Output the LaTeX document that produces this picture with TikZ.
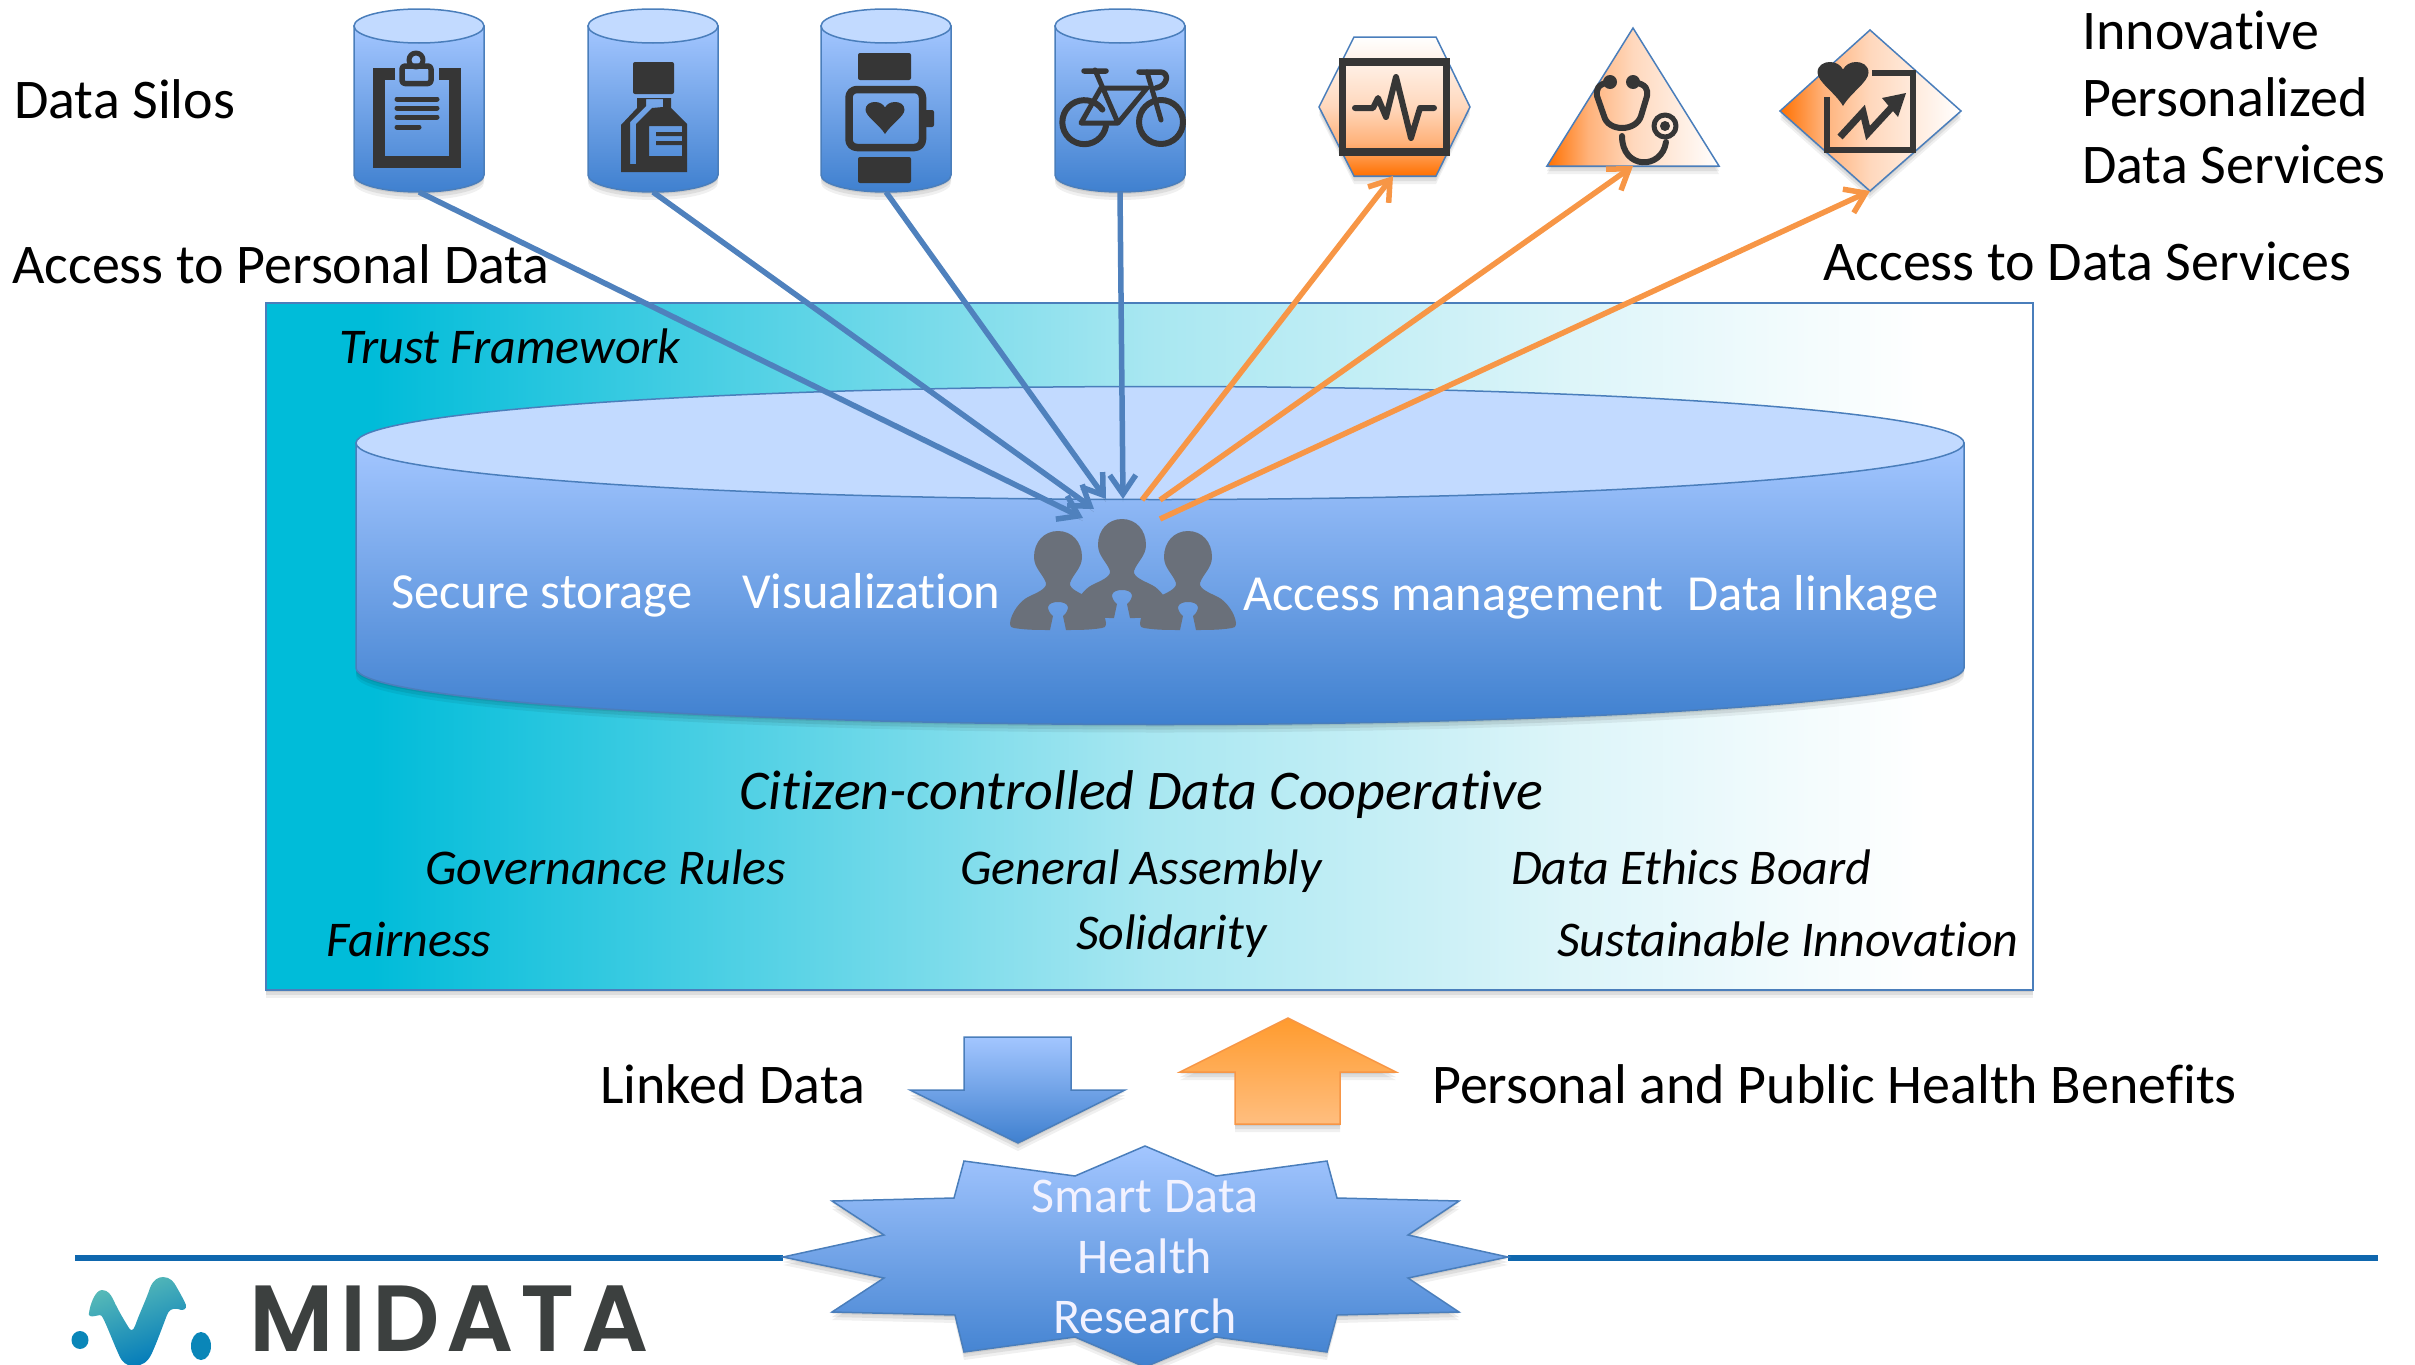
\documentclass[tikz,border=0pt]{standalone}
\usepackage{fontspec}
\setmainfont{Carlito}[Ligatures=NoCommon]
\newfontfamily\logofont{Poppins}[UprightFont=* SemiBold,LetterSpace=7]
\usetikzlibrary{arrows.meta}
\definecolor{edgeblue}{HTML}{4A7EBB}
\definecolor{drumtop}{HTML}{C2DAFF}
\definecolor{drumhi}{HTML}{A3C6FF}
\definecolor{drumlo}{HTML}{3F80CF}
\definecolor{arrblue}{HTML}{4F81BD}
\definecolor{arrorange}{HTML}{F79646}
\definecolor{svcorange}{HTML}{FF7000}
\definecolor{svcmid}{HTML}{FFB27A}
\definecolor{svcpale}{HTML}{FFD8BD}
\definecolor{uporangehi}{HTML}{FF9B2E}
\definecolor{uporangelo}{HTML}{FFBE7F}
\definecolor{icondark}{HTML}{363636}
\definecolor{peoplegrey}{HTML}{6A707A}
\definecolor{ruleblue}{HTML}{0F67AE}
\definecolor{logodark}{HTML}{3C403F}
\definecolor{logoblue}{HTML}{0079BA}
\definecolor{logoteal}{HTML}{5BBDB8}
\definecolor{logodot}{HTML}{0A86B8}
\definecolor{panelcyan}{HTML}{00BCD9}
\definecolor{panelmid}{HTML}{A8E7F1}
\definecolor{panelpale}{HTML}{DDF5F9}
\pgfdeclarehorizontalshading{panelshade}{100bp}{color(0bp)=(panelcyan); color(28bp)=(panelcyan); color(50bp)=(panelmid); color(62bp)=(panelpale); color(72bp)=(white); color(100bp)=(white)}
\pgfdeclarehorizontalshading{svcshade}{100bp}{color(0bp)=(svcorange); color(25bp)=(svcorange); color(37bp)=(svcmid); color(50bp)=(svcpale); color(75bp)=(white); color(100bp)=(white)}
\tikzset{softshadow/.style={preaction={draw=none,fill=black,fill opacity=.08,transform canvas={yshift=-2pt}},preaction={draw=none,fill=black,fill opacity=.08,transform canvas={yshift=-5pt}},preaction={draw=none,fill=black,fill opacity=.06,transform canvas={yshift=-8pt}}}}
\tikzset{drumbody/.style={draw=edgeblue, line width=1.5pt, top color=drumhi, bottom color=drumlo, softshadow}}
\tikzset{drumlid/.style={draw=edgeblue, line width=1.5pt, fill=drumtop}}
\tikzset{svc/.style={draw=edgeblue, line width=1.5pt, softshadow, shading=svcshade}}
\tikzset{icon/.style={draw=icondark, line join=round, line cap=round}}
\tikzset{iconfill/.style={fill=icondark, draw=none}}
\tikzset{arrinto/.style={draw=arrblue, line width=5.5pt, -{Straight Barb[length=19pt,width=26pt]}, preaction={draw=black,draw opacity=.12,-,transform canvas={yshift=-3pt}}}}
\tikzset{arrout/.style={draw=arrorange, line width=5.5pt, -{Straight Barb[length=19pt,width=26pt]}}}
\tikzset{lbl/.style={anchor=base west, inner sep=0pt, text=black, font=\fontsize{56}{60}\selectfont}}
\tikzset{rule/.style={lbl, font=\fontsize{50}{60}\itshape\selectfont}}
\tikzset{feature/.style={lbl, text=white, font=\fontsize{50.5}{60}\selectfont}}
\tikzset{starlbl/.style={anchor=base, inner sep=0pt, text=white!95!blue, font=\fontsize{50}{60}\selectfont}}
% name, left, width, lid y, base y, radius y
\newcommand\drum[6]{
		\path[drumbody] (#2,#4) -- (#2,#5) arc[start angle=180,end angle=0,x radius=#3/2,y radius=#6] -- (#2+#3,#4) -- cycle;
		\path[drumlid] (#2+#3/2,#4) ellipse[x radius=#3/2,y radius=#6];
		\coordinate (#1) at (#2+#3/2,#5+#6);
	}
\newcommand\heartfill[4]{
		\fill[iconfill,shift={(#1,#2)},xscale=#3,yscale=#4] (0,1) .. controls (-.15,.7) and (-.5,.45) .. (-.5,.24) .. controls (-.5,.07) and (-.37,0) .. (-.26,0) .. controls (-.13,0) and (-.05,.07) .. (0,.17) .. controls (.05,.07) and (.13,0) .. (.26,0) .. controls (.37,0) and (.5,.07) .. (.5,.24) .. controls (.5,.45) and (.15,.7) .. (0,1) -- cycle;
	}
\newcommand\person[2]{
		\fill[peoplegrey,shift={(#1,#2)}] (0,0) .. controls (14,0) and (24,11) .. (24,26) .. controls (24,37) and (15,43) .. (12,52) .. controls (11,58) and (22,62) .. (30,66) .. controls (38,70) and (47,82) .. (48,92) .. controls (48,96) and (46,97) .. (44,97) .. controls (32,99) and (20,99) .. (8,99) -- (5,85) .. controls (9,82) and (10,78) .. (10,76) .. controls (9,72) and (4,71) .. (0,71) .. controls (-4,71) and (-9,72) .. (-10,76) .. controls (-10,78) and (-9,82) .. (-5,85) -- (-8,99) .. controls (-20,99) and (-32,99) .. (-44,97) .. controls (-46,97) and (-48,96) .. (-48,92) .. controls (-47,82) and (-38,70) .. (-30,66) .. controls (-22,62) and (-11,58) .. (-12,52) .. controls (-15,43) and (-24,37) .. (-24,26) .. controls (-24,11) and (-14,0) .. (0,0) -- cycle;
	}

\begin{document}
\begin{tikzpicture}[x=1pt,y=-1pt]
		\useasboundingbox (0,0) rectangle (2415,1365);
		
		% silos
		\drum{silo1}{354}{130}{26}{175}{17}
		\drum{silo2}{588}{130}{26}{175}{17}
		\drum{silo3}{821}{130}{26}{175}{17}
		\drum{silo4}{1055}{130}{26}{175}{17}
		
		% clipboard
		\draw[icon,line width=12pt,line cap=butt,line join=miter] (395,74) -- (379,74) -- (379,162) -- (455,162) -- (455,74) -- (439,74);
		\draw[icon,line width=5.5pt,rounded corners=3pt] (402,83.5) -- (402,66) -- (431,66) -- (431,83.5) -- cycle;
		\draw[icon,line width=5pt] (416,60) circle[radius=7];
		\foreach \liney/\lineend in {99/437,108/437,117/437,127/419}
			\draw[icon,line width=5pt] (397,\liney) -- (\lineend,\liney);
		
		% bottle
		\fill[iconfill,rounded corners=2pt] (633,62) rectangle (674,94);
		\fill[iconfill,even odd rule] (637,98) -- (671,98) -- (671,108) -- (687,124) -- (687,172) -- (621,172) -- (621,125) -- (637,108) -- cycle (646,99) -- (663,99) -- (663,107) -- (652,108) -- (636,124) -- (636,164) -- (630,164) -- (630,122) -- (646,106) -- cycle (649,126) rectangle (682,156);
		\fill[iconfill] (656,132) rectangle (682,136) (656,141) rectangle (682,145);
		
		% watch
		\fill[iconfill,rounded corners=2pt] (858,53) rectangle (911,80) (858,157) rectangle (911,183) (924,110) rectangle (934,127);
		\draw[icon,line width=7.5pt,rounded corners=8pt] (849,89.5) rectangle (922.5,147.5);
		\heartfill{885}{102}{39}{32}
		
		% bike
		\draw[icon,line width=6pt] (1106,126) arc[start angle=10,end angle=325,radius=22];
		\draw[icon,line width=6pt] (1161,122) circle[radius=22];
		\draw[icon,line width=5pt] (1095,70) -- (1118,123) -- (1081,123) -- (1101,88) -- (1147,88) -- (1118,123) (1147,72) -- (1161,120);
		\draw[icon,line width=5.5pt] (1084,71) -- (1106,71) (1139,72) -- (1160,72) .. controls (1170,72) and (1168,86) .. (1156,88);
		
		% services
		\path[svc,shading angle=90] (1319,107) -- (1354,37) -- (1436,37) -- (1470,107) -- (1436,176) -- (1354,176) -- cycle;
		\coordinate (svc1) at (1393,176);
		\path[svc] (1633,28) -- (1719,166) -- (1547,166) -- cycle;
		\coordinate (svc2) at (1633,166);
		\path[svc] (1870,30) -- (1961,111) -- (1870,191) -- (1780,111) -- cycle;
		\coordinate (svc3) at (1870,191);
		
		% monitor
		\draw[icon,line width=7.5pt,line cap=butt,line join=miter] (1342.5,62) rectangle (1446.5,152);
		\draw[icon,line width=6pt] (1355,108) -- (1373,108) -- (1378,98) -- (1386,117) -- (1396,77) -- (1411,138) -- (1420,108) -- (1434,108);
		
		% stethoscope
		\draw[icon,line width=6pt] (1610,82) .. controls (1597,84) and (1596,90) .. (1597,96) -- (1604,116) .. controls (1608,132) and (1636,132) .. (1641,116) -- (1647,96) .. controls (1648,90) and (1647,84) .. (1633,82);
		\fill[iconfill] (1610,82) circle[radius=7] (1633,82) circle[radius=7];
		\draw[icon,line width=5pt] (1665,126) circle[radius=11];
		\fill[iconfill] (1665,126) circle[radius=5];
		\draw[icon,line width=6pt] (1622,136) .. controls (1622,170) and (1662,170) .. (1666,142);
		
		% chart
		\draw[icon,line width=6.5pt,line cap=butt,line join=miter] (1872,73) -- (1913,73) -- (1913,150) -- (1827,150) -- (1827,97);
		\heartfill{1843}{62}{51}{44}
		\draw[icon,line width=7pt,line cap=butt,line join=miter] (1840,137) -- (1863,112) -- (1868,133) -- (1892,107);
		\fill[iconfill] (1906,93) -- (1882,98) -- (1898,117) -- cycle;
		
		% labels on top
		\node[lbl] (silos) at (14,118) {Data Silos};
		\node[lbl] (accesspersonal) at (12,283) {Access to Personal Data};
		\node[lbl] (innov1) at (2082,49) {Innovative};
		\node[lbl] (innov2) at (2082,116) {Personalized};
		\node[lbl] (innov3) at (2082,183) {Data Services};
		\node[lbl] (accessservices) at (1823,280) {Access to Data Services};
		
		% trust framework
		\path[softshadow,shading=panelshade,draw=edgeblue,line width=1.5pt] (266,303) rectangle (2033,990);
		\node[rule] (trust) at (339,363) {Trust Framework};
		
		% data cooperative
		\drum{store}{356}{1608}{443}{668}{56.5}
		\node[feature] (secure) at (391,608) {Secure storage};
		\node[feature] (visual) at (742,608) {Visualization};
		\node[feature] (access) at (1243,610) {Access management};
		\node[feature] (linkage) at (1687,610) {Data linkage};
		\person{1058}{531}
		\person{1188}{531}
		\person{1122}{519}
		
		\node[rule,font=\fontsize{56}{60}\itshape\selectfont] (coop) at (739,809) {Citizen-controlled Data Cooperative};
		\node[rule] (governance) at (425,884) {Governance Rules};
		\node[rule] (assembly) at (960,884) {General Assembly};
		\node[rule] (ethics) at (1511,884) {Data Ethics Board};
		\node[rule] (fairness) at (326,956) {Fairness};
		\node[rule] (solidarity) at (1076,949) {Solidarity};
		\node[rule] (sustainable) at (1557,956) {Sustainable Innovation};
		
		% arrows into the people
		\coordinate (hub1) at (1083,518);
		\coordinate (hub2) at (1094,509);
		\coordinate (hub3) at (1106,499);
		\coordinate (hub4) at (1123,499);
		\coordinate (port1) at (1142,500);
		\coordinate (port2) at (1160,500);
		\coordinate (port3) at (1160,519);
		\draw[arrinto] (silo1) -- (hub1);
		\draw[arrinto] (silo2) -- (hub2);
		\draw[arrinto] (silo3) -- (hub3);
		\draw[arrinto] (silo4) -- (hub4);
		\draw[arrout] (port1) -- (svc1);
		\draw[arrout] (port2) -- (svc2);
		\draw[arrout] (port3) -- (svc3);
		
		% rule and star
		\coordinate (ruleL) at (75,1258);
		\coordinate (ruleR) at (2378,1258);
		\coordinate (starL) at (783,1258);
		\coordinate (starR) at (1508,1258);
		\draw[ruleblue,line width=5.5pt] (ruleL) -- (starL) (starR) -- (ruleR);
		\path[drumbody,line width=1.5pt] (1145,1146) -- (1216,1176) -- (1327,1161) -- (1337,1198) -- (1459,1201) -- (1408,1235) -- (1508,1257) -- (1408,1278) -- (1459,1312) -- (1337,1315) -- (1327,1352) -- (1216,1337) -- (1145,1367) -- (1075,1337) -- (964,1352) -- (955,1315) -- (832,1312) -- (884,1278) -- (783,1257) -- (884,1235) -- (832,1201) -- (954,1198) -- (964,1161) -- (1075,1176) -- cycle;
		\node[starlbl] (smart) at (1145,1212) {Smart Data};
		\node[starlbl] (health) at (1145,1273) {Health};
		\node[starlbl] (research) at (1145,1333) {Research};
		
		% block arrows
		\path[drumbody] (964,1037) -- (1071,1037) -- (1071,1090) -- (1125,1090) -- (1018,1143) -- (910,1090) -- (964,1090) -- cycle;
		\path[softshadow,draw=arrorange,line width=1.5pt,top color=uporangehi,bottom color=uporangelo] (1235,1124) -- (1235,1072) -- (1180,1072) -- (1288,1018) -- (1396,1072) -- (1340,1072) -- (1340,1124) -- cycle;
		\node[lbl] (linked) at (600,1103.5) {Linked Data};
		\node[lbl] (benefits) at (1432,1103.5) {Personal and Public Health Benefits};
		
		% logo
		\shade[top color=logoteal,bottom color=logoblue,shading angle=20] (89,1313) .. controls (90,1305) and (95,1290) .. (102,1290) .. controls (108,1290) and (111,1295) .. (113,1299) .. controls (118,1310) and (124,1320) .. (129,1328) .. controls (131,1331) and (133,1331) .. (135,1326) .. controls (140,1312) and (146,1300) .. (150,1288) .. controls (153,1280) and (158,1277) .. (163,1277) .. controls (170,1277) and (174,1282) .. (176,1286) .. controls (180,1293) and (184,1300) .. (186,1305) .. controls (187,1310) and (182,1311) .. (178,1309) .. controls (172,1308) and (169,1310) .. (167,1315) .. controls (162,1328) and (157,1342) .. (152,1353) .. controls (148,1362) and (142,1366) .. (134,1366) .. controls (126,1366) and (122,1362) .. (119,1355) .. controls (113,1342) and (108,1328) .. (103,1318) .. controls (101,1313) and (98,1316) .. (95,1316) .. controls (91,1317) and (88,1316) .. (89,1313) -- cycle;
		\fill[logodot] (80,1340) ellipse[x radius=8.5,y radius=9];
		\fill[logodot] (201,1346) ellipse[x radius=10,y radius=14];
		\node[anchor=base west,inner sep=0pt,text=logodark,font=\logofont\fontsize{94}{100}\selectfont] (midata) at (249,1351) {MIDATA};
	\end{tikzpicture}
\end{document}
